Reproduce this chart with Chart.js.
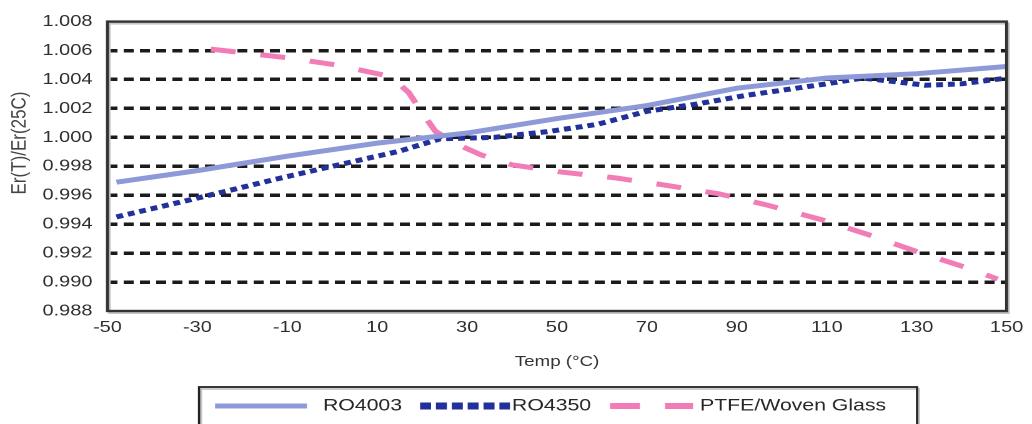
<!DOCTYPE html>
<html>
<head>
<meta charset="utf-8">
<script src="https://cdn.jsdelivr.net/npm/chart.js@4.4.0/dist/chart.umd.min.js"></script>
<style>
html,body{margin:0;padding:0;background:#fff;overflow:hidden;width:1032px;height:424px;}
#wrap{position:absolute;left:0;top:0;width:826px;height:424px;transform:scaleX(1.2494);transform-origin:0 0;}
</style>
</head>
<body>
<div id="wrap"><canvas id="c"></canvas></div>
<script>
// ---- data ----
const xTicks = [-50, -30, -10, 10, 30, 50, 70, 90, 110, 130, 150];
const yTicks = [0.988, 0.990, 0.992, 0.994, 0.996, 0.998, 1.000, 1.002, 1.004, 1.006, 1.008];

const seriesLabels = ['RO4003', 'RO4350', 'PTFE/Woven Glass'];

const ro4003Temp = [-48, -30, -10, 10, 30, 50, 70, 90, 110, 130, 150];
const ro4003Val  = [0.9969, 0.9977, 0.9987, 0.9996, 1.0003, 1.0013, 1.0022, 1.0034, 1.0041, 1.0044, 1.0049];

const ro4350Temp = [-48, -30, -12, 0, 15, 24, 36, 48, 59, 70, 81, 92, 110, 118, 132, 140, 150];
const ro4350Val  = [0.9945, 0.9958, 0.99715, 0.9980, 0.99905, 0.9999, 1.0000, 1.0004, 1.0009, 1.0018, 1.0023, 1.0029, 1.0037, 1.0041, 1.0036, 1.0037, 1.0041];

const ptfeTemp = [-27, -10, 1, 13, 17, 20, 23, 28, 33, 40, 51, 63, 74, 86, 97, 109, 120, 131, 142, 148];
const ptfeVal  = [1.0061, 1.0055, 1.0050, 1.0042, 1.0031, 1.0017, 1.0004, 0.9995, 0.9988, 0.9981, 0.9976, 0.9972, 0.9967, 0.9961, 0.9953, 0.9943, 0.9932, 0.9920, 0.9909, 0.9902];

const xTitle = 'Temp (°C)';
const yTitle = 'Er(T)/Er(25C)';

// ---- chart ----
const FONT = "'Liberation Sans', Arial, Helvetica, sans-serif";
Chart.defaults.font.family = FONT;

const toPts = (xs, ys) => xs.map((x, i) => ({ x: x, y: ys[i] }));

const styles = [
  { color: '#8e9ad8', width: 5, dash: [], legendWidth: 5, legendDash: [] },
  { color: '#22319a', width: 5, dash: [5.5, 4], legendWidth: 7, legendDash: [8.8, 3.9] },
  { color: '#f27db6', width: 5, dash: [20, 20], legendWidth: 6, legendDash: [24, 20] }
];

const framePlugin = {
  id: 'frame',
  afterDatasetsDraw(chart) {
    const { ctx, chartArea: a } = chart;
    ctx.save();
    ctx.strokeStyle = '#c6c6c6';
    ctx.lineWidth = 2;
    ctx.strokeRect(a.left + 1.6, a.top + 2, a.right - a.left, a.bottom - a.top);
    ctx.strokeStyle = '#333333';
    ctx.lineWidth = 2.4;
    ctx.strokeRect(a.left, a.top, a.right - a.left, a.bottom - a.top);
    ctx.restore();
  }
};

const legendPos = { left: 159.3, right: 734, top: 387, y: 406,
  items: [ { x0: 172.1, x1: 245.7, tx: 258.5 },
           { x0: 336.2, x1: 408.2, tx: 409.8 },
           { x0: 488.2, x1: 554.7, tx: 560.3 } ] };

const legendPlugin = {
  id: 'boxLegend',
  afterDraw(chart) {
    const ctx = chart.ctx;
    ctx.save();
    ctx.strokeStyle = '#c6c6c6';
    ctx.lineWidth = 1.8;
    ctx.strokeRect(legendPos.left + 1.6, legendPos.top + 2, legendPos.right - legendPos.left, 60);
    ctx.strokeStyle = '#222';
    ctx.lineWidth = 1.8;
    ctx.strokeRect(legendPos.left, legendPos.top, legendPos.right - legendPos.left, 60);
    chart.data.datasets.forEach((ds, i) => {
      const it = legendPos.items[i];
      const st = styles[i];
      ctx.beginPath();
      ctx.setLineDash(st.legendDash);
      ctx.lineCap = 'butt';
      ctx.strokeStyle = st.color;
      ctx.lineWidth = st.legendWidth;
      ctx.moveTo(it.x0, legendPos.y);
      ctx.lineTo(it.x1, legendPos.y);
      ctx.stroke();
      ctx.setLineDash([]);
      ctx.fillStyle = '#262626';
      ctx.font = '17px ' + FONT;
      ctx.textAlign = 'left';
      ctx.textBaseline = 'middle';
      ctx.fillText(ds.label, it.tx, legendPos.y);
    });
    ctx.restore();
  }
};

const yTitlePlugin = {
  id: 'yTitle',
  afterDraw(chart) {
    const ctx = chart.ctx;
    ctx.save();
    ctx.translate(15.6, 143);
    ctx.rotate(-Math.PI / 2);
    ctx.fillStyle = '#444';
    ctx.font = '17px ' + FONT;
    ctx.textAlign = 'center';
    ctx.textBaseline = 'middle';
    ctx.fillText(yTitle, 0, 0);
    ctx.restore();
  }
};

new Chart(document.getElementById('c'), {
  type: 'line',
  data: {
    datasets: [
      { label: seriesLabels[0], data: toPts(ro4003Temp, ro4003Val) },
      { label: seriesLabels[1], data: toPts(ro4350Temp, ro4350Val) },
      { label: seriesLabels[2], data: toPts(ptfeTemp, ptfeVal) }
    ].map((d, i) => Object.assign(d, {
      borderColor: styles[i].color,
      backgroundColor: styles[i].color,
      borderWidth: styles[i].width,
      borderDash: styles[i].dash,
      pointRadius: 0,
      tension: 0,
      fill: false,
      borderCapStyle: 'butt'
    }))
  },
  options: {
    responsive: true,
    maintainAspectRatio: false,
    animation: false,
    devicePixelRatio: 2,
    layout: { padding: { top: 17, right: 17, bottom: 53, left: 0 } },
    plugins: { legend: { display: false }, tooltip: { enabled: false } },
    scales: {
      x: {
        type: 'linear',
        min: -50, max: 150,
        afterBuildTicks: s => { s.ticks = xTicks.map(v => ({ value: v })); },
        afterFit: s => { s.height = 60; },
        grid: { display: false, drawTicks: false },
        border: { display: false },
        ticks: { padding: 7, color: '#2e2e2e', font: { size: 16 }, callback: v => String(v) },
        title: { display: true, text: xTitle, color: '#333', font: { size: 15 }, padding: { top: 0, bottom: 0 } }
      },
      y: {
        type: 'linear',
        min: 0.988, max: 1.008,
        afterBuildTicks: s => { s.ticks = yTicks.map(v => ({ value: v })); },
        afterFit: s => { s.width = 86; },
        grid: {
          drawTicks: false,
          lineWidth: 3.5,
          color: c => (c.index === 0 || c.index === yTicks.length - 1) ? 'rgba(0,0,0,0)' : '#1b1b1b'
        },
        border: { display: false, dash: [8, 5] },
        ticks: { padding: 12, color: '#2e2e2e', font: { size: 16 }, callback: v => Number(v).toFixed(3) }
      }
    }
  },
  plugins: [framePlugin, legendPlugin, yTitlePlugin]
});
</script>
</body>
</html>
